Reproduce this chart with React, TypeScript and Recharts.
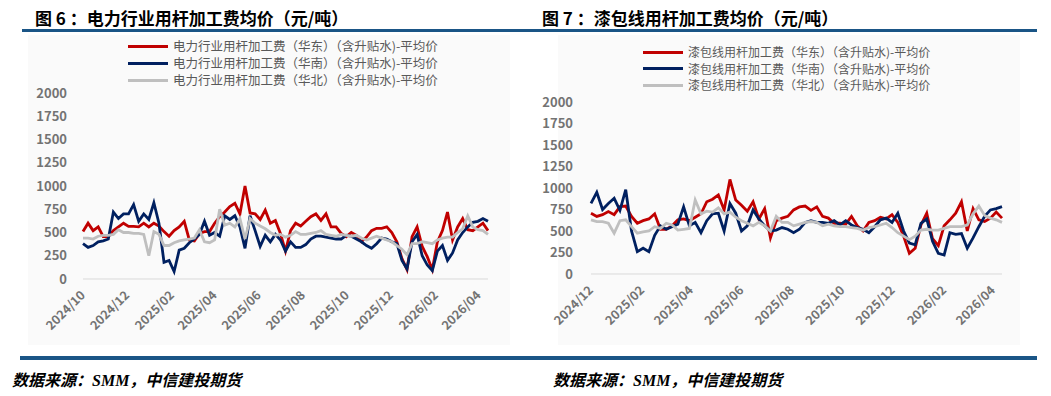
import { LineChart, Line, XAxis, YAxis } from 'recharts';

// 周度数据，左图起点 2024-10-01，右图起点 2024-12-01
const leftTickDays = [0, 61, 123, 182, 243, 304, 365, 426, 488, 547];
const leftTickLabels = ['2024/10', '2024/12', '2025/02', '2025/04', '2025/06', '2025/08', '2025/10', '2025/12', '2026/02', '2026/04'];

const leftEast = [
  510, 600, 520, 560, 455, 455, 520, 560, 600, 565, 565, 560, 600, 560, 600, 570, 510, 460, 520, 560,
  620, 420, 410, 490, 510, 510, 600, 670, 720, 780, 815, 700, 1000, 710, 700, 640, 740, 600, 630, 490,
  300, 520, 600, 570, 620, 670, 700, 630, 700, 560, 560, 490, 455, 500, 470, 400, 450, 520, 545, 545,
  560, 500, 400, 220, 100, 455, 560, 350, 240, 100, 400, 520, 720, 420, 560, 650, 530, 520, 560, 600, 520,
];
const leftSouth = [
  380, 340, 360, 400, 410, 430, 720, 650, 700, 700, 800, 620, 700, 640, 820, 600, 180, 200, 80, 310,
  330, 390, 430, 480, 620, 470, 500, 460, 680, 640, 680, 560, 330, 680, 520, 350, 470, 400, 480, 420,
  300, 400, 340, 340, 370, 430, 460, 460, 450, 440, 430, 430, 470, 460, 430, 400, 360, 330, 380, 440,
  430, 400, 380, 200, 110, 400, 480, 250, 150, 90, 300, 360, 200, 280, 420, 500, 560, 610, 620, 650, 620,
];
const leftNorth = [
  440, 440, 430, 460, 470, 470, 480, 530, 500, 500, 490, 490, 480, 250, 510, 480, 360, 360, 390, 410,
  420, 430, 440, 530, 400, 390, 420, 750, 580, 600, 560, 650, 430, 650, 600, 570, 540, 500, 470, 480,
  450, 470, 510, 480, 480, 490, 500, 520, 480, 470, 460, 480, 470, 460, 470, 440, 420, 440, 460, 440,
  420, 400, 360, 320, 260, 380, 380, 400, 390, 380, 420, 440, 450, 450, 500, 540, 680, 560, 530, 520, 480,
];

const rightTickDays = [0, 62, 121, 182, 243, 304, 365, 427, 486];
const rightTickLabels = ['2024/12', '2025/02', '2025/04', '2025/06', '2025/08', '2025/10', '2025/12', '2026/02', '2026/04'];

const rightEast = [
  707, 670, 690, 726, 690, 784, 790, 670, 590, 620, 640, 700, 520, 520, 560, 630, 640, 620, 660, 700,
  840, 870, 920, 745, 1100, 860, 800, 730, 840, 640, 760, 420, 620, 650, 670, 745, 780, 790, 740, 780,
  670, 650, 590, 590, 580, 670, 560, 500, 600, 620, 660, 640, 690, 600, 440, 240, 300, 570, 707, 410,
  330, 560, 630, 707, 840, 500, 760, 630, 610, 650, 720, 650,
];
const rightSouth = [
  820, 950, 750, 820, 880, 740, 980, 500, 260, 300, 260, 450, 560, 520, 550, 580, 780, 560, 600, 480,
  620, 700, 707, 500, 820, 707, 500, 560, 745, 640, 560, 500, 510, 540, 520, 480, 520, 600, 620, 600,
  600, 590, 620, 570, 620, 570, 540, 520, 480, 550, 630, 650, 600, 707, 500, 360, 340, 590, 640, 380,
  240, 220, 480, 460, 470, 300, 420, 550, 670, 745, 760, 784,
];
const rightNorth = [
  630, 610, 610, 590, 475, 620, 630, 550, 475, 490, 500, 550, 530, 590, 570, 510, 520, 530, 861, 700,
  730, 720, 770, 700, 720, 660, 620, 590, 560, 600, 560, 500, 670, 600, 600, 560, 580, 600, 610, 600,
  560, 580, 560, 550, 550, 540, 530, 510, 540, 550, 570, 590, 540, 480, 440, 400, 440, 510, 520, 510,
  510, 530, 550, 550, 550, 570, 700, 790, 680, 650, 630, 600,
];

const yTicks = [0, 250, 500, 750, 1000, 1250, 1500, 1750, 2000];

const COLORS = { east: '#c00000', south: '#002060', north: '#bfbfbf' };
const BLUE = '#1a5586';
const FONT = '"Noto Sans CJK SC", "Noto Sans", sans-serif';

const buildRows = (east: number[], south: number[], north: number[]) =>
  east.map((v, i) => ({ day: i * 7, east: v, south: south[i], north: north[i] }));

const DateTick = (props: any) => {
  const { x, y, payload, days, labels } = props;
  const label = labels[days.indexOf(payload.value)];
  const px = x + 3;
  const py = y + 9;
  return (
    <text x={px} y={py} transform={`rotate(-45 ${px} ${py})`} textAnchor="end"
      fill="#737373" fontSize={12.5} fontWeight="bold" fontFamily={FONT}>
      {label}
    </text>
  );
};

interface PanelProps {
  left: number;
  title: string;
  names: string[];
  east: number[];
  south: number[];
  north: number[];
  days: number[];
  labels: string[];
  lastDay: number;
  chart: { x: number; w: number; top: number; right: number; bottom: number; yWidth: number; tickMargin: number };
  legend: { x: number; y: number; gap: number; size: number };
}

const Panel = ({ left, title, names, east, south, north, days, labels, lastDay, chart, legend }: PanelProps) => {
  const rows = buildRows(east, south, north);
  const keys = ['east', 'south', 'north'] as const;
  return (
    <>
      <div style={{ position: 'absolute', left, top: 5, fontSize: 17, fontWeight: 'bold', color: '#000', fontFamily: FONT, whiteSpace: 'pre' }}>
        {title}
      </div>
      <div style={{ position: 'absolute', left: chart.x + 28, top: 35, width: chart.w - 38, height: 310, background: '#fafafa' }} />
      {keys.map((k, i) => (
        <div key={k} style={{ position: 'absolute', left: legend.x, top: legend.y + i * legend.gap - 7, height: 14, display: 'flex', alignItems: 'center', whiteSpace: 'nowrap' }}>
          <div style={{ width: 40, height: 3, background: COLORS[k], marginRight: 5 }} />
          <span style={{ fontSize: legend.size, lineHeight: '14px', color: '#595959', fontFamily: FONT }}>{names[i]}</span>
        </div>
      ))}
      <div style={{ position: 'absolute', left: chart.x, top: 0 }}>
        <LineChart width={chart.w} height={350} data={rows}
          margin={{ top: chart.top, right: chart.right, bottom: chart.bottom, left: 0 }}>
          <XAxis dataKey="day" type="number" domain={[0, lastDay]} ticks={days} interval={0}
            stroke="#d9d9d9" tickLine={false} height={60}
            tick={<DateTick days={days} labels={labels} />} />
          <YAxis domain={[0, 2000]} ticks={yTicks} width={chart.yWidth} axisLine={false} tickLine={false}
            tickMargin={chart.tickMargin}
            tick={{ fill: '#737373', fontSize: 13, fontWeight: 'bold', fontFamily: FONT }} />
          {keys.map((k) => (
            <Line key={k} dataKey={k} stroke={COLORS[k]} strokeWidth={2.8} dot={false} isAnimationActive={false} />
          ))}
        </LineChart>
      </div>
    </>
  );
};

const leftNames = [
  '电力行业用杆加工费（华东）（含升贴水)-平均价',
  '电力行业用杆加工费（华南）（含升贴水)-平均价',
  '电力行业用杆加工费（华北）（含升贴水)-平均价',
];
const rightNames = [
  '漆包线用杆加工费（华东）（含升贴水)-平均价',
  '漆包线用杆加工费（华南）（含升贴水)-平均价',
  '漆包线用杆加工费（华北）（含升贴水)-平均价',
];

const sourceStyle = {
  position: 'absolute' as const, top: 367, fontSize: 16, fontStyle: 'italic', fontWeight: 'bold',
  fontFamily: '"Liberation Serif", "Noto Sans CJK SC", serif', color: '#000', whiteSpace: 'nowrap' as const,
};

export default function App() {
  return (
    <div style={{ position: 'absolute', left: 0, top: 0, width: 1051, height: 396, background: '#fff', overflow: 'hidden' }}>
      <div style={{ position: 'absolute', left: 22, top: 29, width: 1015, height: 3, background: BLUE }} />
      <div style={{ position: 'absolute', left: 20, top: 356, width: 1017, height: 4, background: BLUE }} />
      <Panel left={35} title="图 6 ：电力行业用杆加工费均价（元/吨）" names={leftNames}
        east={leftEast} south={leftSouth} north={leftNorth}
        days={leftTickDays} labels={leftTickLabels} lastDay={560}
        chart={{ x: 0, w: 520, top: 93, right: 32, bottom: 11, yWidth: 83, tickMargin: 10 }}
        legend={{ x: 128, y: 46, gap: 17, size: 12.5 }} />
      <Panel left={542} title="图 7 ：漆包线用杆加工费均价（元/吨）" names={rightNames}
        east={rightEast} south={rightSouth} north={rightNorth}
        days={rightTickDays} labels={rightTickLabels} lastDay={497}
        chart={{ x: 530, w: 500, top: 102, right: 28, bottom: 16, yWidth: 61, tickMargin: 12 }}
        legend={{ x: 643, y: 52, gap: 16.5, size: 12 }} />
      <div style={{ ...sourceStyle, left: 12 }}>数据来源：SMM，中信建投期货</div>
      <div style={{ ...sourceStyle, left: 553 }}>数据来源：SMM，中信建投期货</div>
    </div>
  );
}
